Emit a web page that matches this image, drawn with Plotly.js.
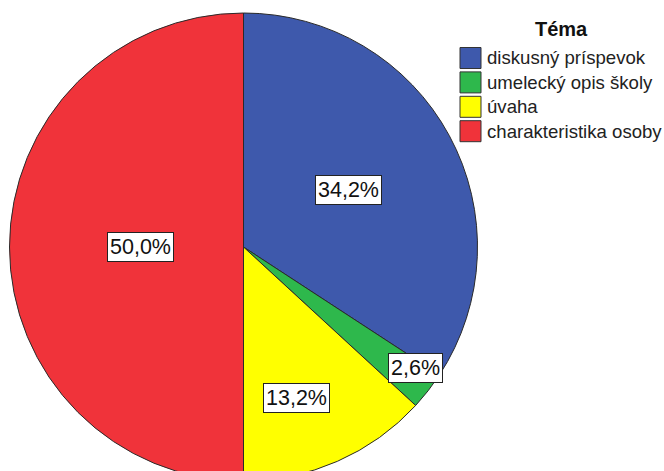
<!DOCTYPE html>
<html>
<head>
<meta charset="utf-8">
<script src="https://cdn.plot.ly/plotly-3.0.1.min.js"></script>
<style>
  html, body { margin: 0; padding: 0; background: #fff; overflow: hidden; }
  #chart { width: 664px; height: 490px; }
</style>
</head>
<body>
<div id="chart"></div>
<script>
// ---- data ----
const categories = ['diskusný príspevok', 'umelecký opis školy', 'úvaha', 'charakteristika osoby'];
const counts = [26, 2, 10, 38];
const legendTitle = 'Téma';

// ---- styles ----
const colors = ['#3e59ac', '#2eb84c', '#ffff00', '#f0333a'];
const labelRadius = [0.51, 0.90, 0.69, 0.44];   // fraction of radius where each % box sits
const labelShift = [[0, 0], [6, 8], [-12, -3], [0, 0]]; // px nudges

const W = 664, H = 490;
const cx = 243.5, cy = 247, R = 234;   // pie centre/radius in px (page coords)

const total = counts.reduce((a, b) => a + b, 0);
const fmt = v => (v / total * 100).toFixed(1).replace('.', ',') + '%';

const trace = {
  type: 'pie',
  labels: categories,
  values: counts,
  sort: false,
  direction: 'clockwise',
  rotation: 0,
  marker: { colors: colors, line: { color: '#2a2a2a', width: 1 } },
  textinfo: 'none',
  hoverinfo: 'none',
  showlegend: false,
  domain: { x: [(cx - R) / W, (cx + R) / W], y: [1 - (cy + R) / H, 1 - (cy - R) / H] }
};

const annotations = [];
const shapes = [];
let cum = 0;
counts.forEach((v, i) => {
  const mid = (cum + v / 2) / total * 2 * Math.PI;
  cum += v;
  const px = cx + labelRadius[i] * R * Math.sin(mid) + labelShift[i][0];
  const py = cy - labelRadius[i] * R * Math.cos(mid) - labelShift[i][1];
  annotations.push({
    xref: 'paper', yref: 'paper', x: px / W, y: 1 - py / H,
    xanchor: 'center', yanchor: 'middle', showarrow: false,
    text: fmt(v),
    font: { family: 'Liberation Sans, Arial, sans-serif', size: 21.5, color: '#111' },
    bgcolor: '#ffffff', bordercolor: '#222', borderwidth: 1, borderpad: 2
  });
});

// legend (built from categories and colours)
const legX = 460, legY0 = 58, legStep = 24.4, sq = 21;
annotations.push({
  xref: 'paper', yref: 'paper', x: 561 / W, y: 1 - 28.5 / H,
  xanchor: 'center', yanchor: 'middle', showarrow: false,
  text: '<b>' + legendTitle + '</b>',
  font: { family: 'Liberation Sans, Arial, sans-serif', size: 20, color: '#111' }
});
categories.forEach((c, i) => {
  const yc = legY0 + i * legStep;
  shapes.push({
    type: 'rect', xref: 'paper', yref: 'paper',
    x0: legX / W, x1: (legX + sq) / W,
    y0: 1 - (yc + sq / 2) / H, y1: 1 - (yc - sq / 2) / H,
    fillcolor: colors[i], line: { color: '#333', width: 1 }
  });
  annotations.push({
    xref: 'paper', yref: 'paper', x: (legX + sq + 4) / W, y: 1 - yc / H,
    xanchor: 'left', yanchor: 'middle', showarrow: false,
    text: c,
    font: { family: 'Liberation Sans, Arial, sans-serif', size: 18.6, color: '#222' }
  });
});

const layout = {
  width: W, height: H,
  margin: { l: 0, r: 0, t: 0, b: 0 },
  paper_bgcolor: '#ffffff',
  plot_bgcolor: '#ffffff',
  showlegend: false,
  annotations: annotations,
  shapes: shapes
};

Plotly.newPlot('chart', [trace], layout, { displayModeBar: false, staticPlot: true });
</script>
</body>
</html>
